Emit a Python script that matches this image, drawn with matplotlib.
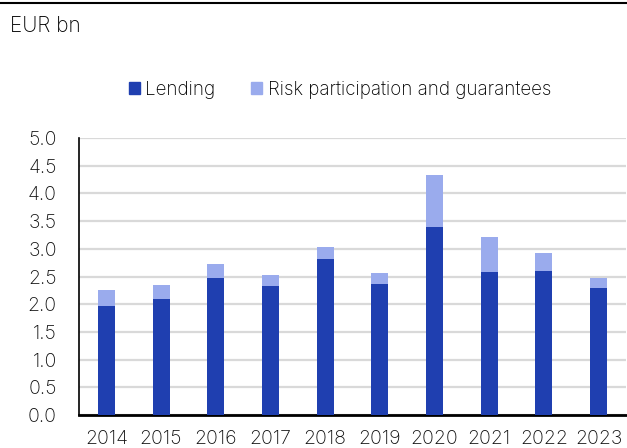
import matplotlib
matplotlib.use("Agg")
import matplotlib.pyplot as plt
from matplotlib.patches import Patch
from matplotlib.lines import Line2D

years = ["2014", "2015", "2016", "2017", "2018", "2019", "2020", "2021", "2022", "2023"]
lending = [1.96, 2.10, 2.48, 2.32, 2.81, 2.36, 3.39, 2.59, 2.60, 2.29]
risk = [0.29, 0.24, 0.24, 0.21, 0.22, 0.20, 0.94, 0.62, 0.33, 0.19]

dark = "#1f3fb0"
light = "#9aabed"

plt.rcParams["font.family"] = ["Inter", "DejaVu Sans"]
plt.rcParams["font.weight"] = "light"
fig = plt.figure(figsize=(6.27, 4.48), dpi=100)
ax = fig.add_axes([79 / 627, (448 - 415) / 448, 547 / 627, 277 / 448])

x = range(len(years))
ax.bar(x, lending, width=0.31, color=dark, zorder=3)
ax.bar(x, risk, bottom=lending, width=0.31, color=light, zorder=3)

ax.set_xlim(-0.5, len(years) - 0.5)
ax.set_ylim(0, 5.0)
ax.set_yticks([i * 0.5 for i in range(11)])
ax.set_yticklabels([f"{i * 0.5:.1f}" for i in range(11)])
ax.set_xticks(list(x))
ax.set_xticklabels(years)
ax.tick_params(axis="both", length=0, labelsize=14, colors="#111111")
ax.tick_params(axis="y", pad=16)
ax.tick_params(axis="x", pad=11)
ax.yaxis.grid(True, color="#d9d9d9", lw=1.6, zorder=0)
for s in ["top", "right"]:
    ax.spines[s].set_visible(False)
ax.spines["left"].set_linewidth(1.2)
ax.spines["bottom"].set_linewidth(2)

fig.add_artist(Line2D([0, 1], [1 - 3 / 448, 1 - 3 / 448], color="black", lw=1.5))
fig.text(10 / 627, 1 - 26 / 448, "EUR bn", fontsize=15, va="center", ha="left")

handles = [Patch(color=dark), Patch(color=light)]
fig.legend(handles, ["Lending", "Risk participation and guarantees"],
           loc="center", bbox_to_anchor=(340 / 627, 1 - 90 / 448), ncol=2,
           frameon=False, fontsize=13.5, handlelength=0.6, handleheight=0.6,
           handletextpad=0.3, columnspacing=1.9)

fig.savefig("out.png", dpi=100)
